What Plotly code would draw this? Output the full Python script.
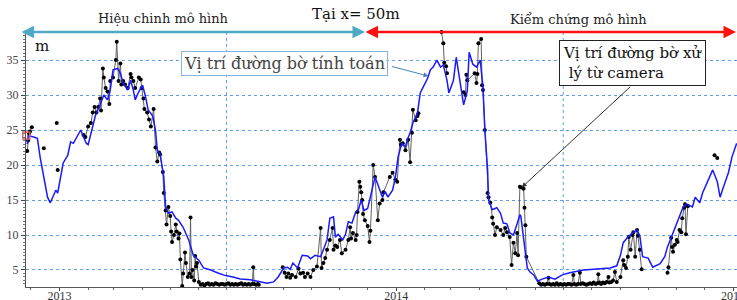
import plotly.graph_objects as go
import pandas as pd

BASE = pd.Timestamp("2013-01-01")

# Model (computed shoreline) - days since 2013-01-01, position (m)
model_day = [-35, -34, -28, -24, -21, -17, -15, -13, -10, -6, -4, -2, 1, 4, 9, 12, 15, 19, 23, 26,
             29, 31, 36, 39, 44, 48, 52, 55, 58, 63, 66, 69, 74, 77, 80, 82, 86, 90, 93, 96,
             101, 104, 106, 109, 113, 115, 118, 122, 126, 129, 134, 140, 145, 151, 156, 164, 171, 180, 188, 196,
             207, 218, 225, 232, 237, 243, 247, 250, 253, 258, 263, 269, 272, 277, 283, 286, 290, 293, 297, 299,
             302, 307, 310, 313, 317, 321, 324, 327, 330, 334, 338, 342, 345, 350, 353, 356, 361, 364, 367, 371,
             375, 377, 380, 383, 388, 391, 394, 399, 402, 405, 409, 413, 416, 420, 422, 427, 430, 432, 436, 438,
             442, 444, 448, 452, 456, 459, 461, 464, 465, 469, 474, 478, 481, 485, 488, 492, 496, 499, 500, 504,
             507, 510, 514, 518, 523, 530, 537, 545, 553, 568, 583, 597, 604, 608, 611, 616, 622, 626, 629, 632,
             638, 643, 651, 656, 659, 665, 670, 676, 680, 686, 689, 694, 697, 703, 708, 713, 716, 719, 725, 729, 734]
model_val = [23.0, 24.2, 24.0, 23.8, 21.1, 18.3, 16.4, 15.4, 14.6, 16.0, 16.4, 16.0, 18.3, 20.3, 21.4, 23.3, 23.1, 24.0, 25.0, 24.0,
             23.1, 22.9, 25.4, 27.1, 28.6, 30.0, 29.3, 30.7, 33.6, 33.8, 33.1, 31.7, 30.7, 32.1, 30.7, 29.3, 30.5, 31.4, 29.9, 27.9,
             27.0, 25.0, 22.1, 21.6, 18.3, 14.0, 13.1, 13.3, 12.4, 12.1, 11.1, 9.3, 7.1, 6.4, 5.3, 5.0, 4.6, 4.2, 4.0, 3.7,
             3.6, 3.3, 3.1, 3.3, 4.0, 5.3, 5.4, 5.1, 6.0, 5.3, 7.1, 7.0, 6.6, 7.1, 6.9, 7.9, 9.3, 12.4, 12.6, 9.7,
             10.1, 9.3, 10.1, 11.9, 11.7, 13.3, 13.6, 15.0, 13.5, 13.8, 16.0, 18.3, 17.2, 15.4, 16.2, 15.4, 16.4, 18.2, 21.2, 23.1,
             22.6, 23.6, 24.6, 26.0, 27.4, 30.3, 31.1, 32.4, 33.6, 34.0, 35.0, 34.0, 34.3, 32.1, 30.3, 32.1, 35.4, 33.6, 30.3, 28.6,
             30.6, 36.1, 34.4, 34.0, 35.0, 31.1, 25.0, 19.3, 15.0, 13.6, 13.9, 13.1, 11.7, 11.6, 10.3, 10.0, 11.6, 12.9, 12.7, 8.5,
             5.3, 4.7, 4.3, 3.4, 3.7, 4.0, 3.7, 4.3, 4.6, 5.0, 5.1, 5.3, 5.6, 7.1, 8.9, 9.7, 10.4, 10.7, 9.9, 6.9,
             6.7, 5.4, 5.9, 6.9, 8.3, 10.3, 11.9, 14.0, 14.4, 14.0, 15.4, 14.6, 16.0, 17.9, 19.3, 17.6, 15.4, 16.6, 18.9, 21.2, 23.1]

# Camera-derived shoreline (None = gap in record)
cam_day = [-35, -34, -33, -32, -30, None, -17, None, -3, None, -2, None,
           26, 28, 31, 34, 36, 38, 40, 42, 44, 45, 47, 48, 50, 52, 54, 55, 58, 61, 62, 64, 66, 67, 69, 71,
           74, 77, 78, 80, 82, 86, 88, 89, 91, 92, 95, 97, 99, 102, 104, 106, 108, 109, 112, 113, 115, 116, 118, 120,
           121, 122, 124, 126, 127, 129, 130, 131, 133, 134, 136, 137, 139, 141, 142, 143, 144, 146, 147, 148, 149, 151,
           153, 155, 157, 159, 161, 163, 165, 167, 169, 171, 173, 175, 177, 179, 181, 183, 185, 187, 189, 191, 193, 195,
           197, 199, 201, 203, 205, 207, 209, 210, 211, 213, 215, 216, None,
           242, 244, 246, 248, 250, 252, 256, 259, 261, 264, 266, 269, 272, 275, 279, 283, 284, 286, 288, 290, 293, 296,
           297, 299, 301, 304, 306, 310, 313, 315, 316, 318, 321, 322, 323, 325, 326, 327, 328, 329, 331, 334, 336, 337,
           340, 342, 345, 347, 350, 351, 358, 361, 364, 366, 369, 370, 372, 375, 378, 380, 382, 383, 386, 388, 389, None,
           414, 416, 417, 419, 420, None,
           438, 440, 441, 442, 450, 452, 453, 454, 457, 458, 459, 461, 464, 465, 467, 469, 470, 472, 474, 478, 481, 483,
           485, 488, 490, 492, 494, 496, 497, 499, 501, 503, 504, 505, 506,
           520, 522, 524, 526, 528, 530, 531, 533, 535, 537, 539, 541, 543, 545, 547, 549, 551, 553, 555, 557, 558, 560,
           562, 564, 565, 567, 569, 571, 573, 575, 577, 579, 581, 583, 584, 585, 587, 589, 591, 593, 595, 596, 598, 600,
           602, 604, 608, 611, 612, 614, 616, 617, 619, 621, 622, 624, 626, 627, 629, 631, None,
           659, 660, 663, 664, 665, 667, 669, 670, 672, 674, 675, 677, 678, 679, 681, None,
           710, 713]
cam_val = [22.0, 23.5, 24.5, 24.8, 25.4, None, 22.4, None, 26.0, None, 19.3, None,
           24.3, 24.0, 25.5, 26.0, 27.5, 28.3, 27.5, 28.3, 29.5, 27.8, 33.8, 32.5, 31.0, 30.5, 28.7, 32.0, 32.5, 35.0, 37.6, 32.0, 34.5, 31.5, 32.0, 31.5,
           31.0, 33.0, 32.5, 32.0, 31.0, 32.5, 32.2, 31.0, 29.5, 28.0, 27.5, 26.5, 25.5, 28.0, 22.5, 20.5, 21.8, 21.5, 19.0, 16.0, 13.5, 11.5, 14.0, 12.7,
           10.5, 9.0, 10.0, 11.5, 10.5, 9.5, 10.2, 6.5, 2.7, 4.5, 7.5, 6.0, 4.0, 4.5, 12.5, 4.0, 5.0, 3.5, 7.0, 5.5, 6.0, 3.3,
           2.9, 3.0, 2.8, 3.0, 3.1, 2.9, 3.0, 2.9, 3.1, 3.0, 2.9, 3.0, 3.0, 2.9, 3.0, 3.1, 2.9, 3.0, 2.9, 3.0, 2.9, 3.0,
           3.1, 2.9, 3.0, 2.9, 3.0, 2.9, 3.0, 5.4, 3.0, 2.9, 3.0, 2.9, None,
           5.4, 4.6, 4.0, 4.5, 3.9, 4.3, 4.0, 5.2, 4.5, 4.6, 4.0, 4.5, 4.0, 5.0, 5.5, 11.0, 5.3, 6.0, 6.7, 7.9, 9.3, 11.0,
           7.9, 8.5, 8.3, 9.3, 7.4, 7.9, 9.3, 11.1, 9.5, 10.3, 9.3, 10.0, 13.3, 17.6, 16.9, 16.1, 15.0, 13.0, 12.1, 11.3, 9.0, 10.6,
           20.0, 18.3, 12.1, 14.5, 15.0, 16.1, 18.3, 18.9, 17.9, 17.6, 23.6, 22.9, 23.1, 22.1, 23.6, 20.4, 24.6, 27.9, 26.4, 27.0, 27.4, None,
           39.0, 37.4, 34.6, 34.1, 33.1, None,
           30.4, 30.0, 32.9, 32.1, 33.1, 31.7, 33.0, 37.4, 38.0, 31.4, 30.7, 25.0, 16.0, 15.4, 14.6, 12.5, 11.6, 10.0, 11.1, 10.7, 10.0, 11.0,
           10.4, 9.7, 5.7, 8.9, 7.4, 10.3, 7.1, 16.9, 16.8, 16.6, 13.9, 11.4, 6.9,
           3.1, 2.9, 3.0, 2.9, 3.0, 3.9, 3.0, 2.9, 3.0, 2.9, 3.1, 2.9, 3.0, 2.9, 3.0, 2.9, 3.0, 3.0, 2.9, 4.3, 3.0, 2.9,
           3.0, 4.6, 3.0, 3.1, 3.0, 2.9, 3.0, 3.1, 3.0, 3.2, 3.0, 3.1, 4.4, 3.2, 3.0, 3.2, 3.1, 3.3, 4.0, 3.2, 3.3, 3.5,
           4.7, 3.3, 4.0, 6.4, 5.7, 5.3, 6.9, 9.7, 7.9, 10.0, 10.4, 6.9, 10.7, 9.9, 7.9, 5.1, None,
           4.6, 5.4, 9.6, 8.3, 7.6, 8.6, 9.3, 9.0, 10.7, 10.4, 12.4, 13.9, 14.4, 10.1, 14.1, None,
           21.4, 21.0]

start_day = [-36]
start_val = [24.2]

x_tick_labels = ["2013", "2014", "2015"]
x_tick_days = [0, 365, 730]


def to_dates(days):
    return [None if d is None else BASE + pd.Timedelta(days=d) for d in days]


def px(x):
    return (x - 26) / 711.0


def py(y):
    return (287 - y) / 257.0


SERIF = "Liberation Serif, Times New Roman, serif"
WSERIF = "DejaVu Serif, serif"

fig = go.Figure()

fig.add_trace(go.Scatter(
    x=to_dates(cam_day), y=cam_val, mode="lines+markers",
    line=dict(color="#606060", width=1),
    marker=dict(color="black", size=4),
    connectgaps=False, showlegend=False, hoverinfo="skip"))

fig.add_trace(go.Scatter(
    x=to_dates(model_day), y=model_val, mode="lines",
    line=dict(color="#1a1aff", width=1.5),
    showlegend=False, hoverinfo="skip"))

fig.add_trace(go.Scatter(
    x=to_dates(start_day), y=start_val, mode="markers",
    marker=dict(symbol="square-open", color="#e06060", size=7, line=dict(width=1.5)),
    showlegend=False, hoverinfo="skip", cliponaxis=False))

# vertical dotted grid lines at mid-year
for d in ["2013-07-01", "2014-07-01"]:
    fig.add_shape(type="line", xref="x", yref="paper", x0=d, x1=d, y0=0, y1=1,
                  line=dict(color="rgba(70,140,235,0.85)", width=1, dash="dot"), layer="below")


def txt(x, y, text, size, family=WSERIF, color="#222", **kw):
    d = dict(xref="paper", yref="paper", x=px(x), y=py(y), text=text, showarrow=False,
             xanchor="center", yanchor="middle", font=dict(family=family, size=size, color=color))
    d.update(kw)
    return d


annotations = []
# top double arrows
annotations.append(dict(xref="paper", yref="paper", x=px(365), y=py(32), ax=-345, ay=0,
                        text="", showarrow=True, arrowhead=2, arrowside="end+start", arrowsize=1,
                        arrowwidth=2.5, arrowcolor="#4eaac4"))
annotations.append(dict(xref="paper", yref="paper", x=px(737), y=py(32), ax=-373, ay=0,
                        text="", showarrow=True, arrowhead=2, arrowside="end+start", arrowsize=1,
                        arrowwidth=2.5, arrowcolor="#ff1010"))
annotations.append(txt(163, 19, "Hiệu chinh mô hình", 13))
annotations.append(txt(356, 14, "Tại x= 50m", 15, color="#111"))
annotations.append(txt(578, 20, "Kiểm chứng mô hình", 13))
annotations.append(txt(42, 46, "m", 15, color="#111"))
# label boxes
annotations.append(txt(284, 63.5, "Vị trí đường bờ tính toán", 16, color="#444",
                       bordercolor="#8ab4e0", borderwidth=1, borderpad=2, bgcolor="white"))
annotations.append(dict(xref="x", yref="y", x=BASE + pd.Timedelta(days=400), y=32.7,
                        ax=-38, ay=-10, text="", showarrow=True, arrowhead=2, arrowsize=1,
                        arrowwidth=1, arrowcolor="#4a80c0"))
annotations.append(txt(632, 63.5, "Vị trí đường bờ xử<br> lý từ camera", 15, color="#111", align="left",
                       bordercolor="#222", borderwidth=1, borderpad=3, bgcolor="white"))
annotations.append(dict(xref="x", yref="y", x=BASE + pd.Timedelta(days=501), y=16.8,
                        ax=110, ay=-102, text="", showarrow=True, arrowhead=2, arrowsize=1,
                        arrowwidth=1, arrowcolor="#333"))

fig.update_layout(
    width=737, height=300,
    margin=dict(l=26, r=0, t=30, b=13),
    paper_bgcolor="white", plot_bgcolor="white",
    annotations=annotations,
    xaxis=dict(type="date", range=["2012-11-25 16:00", "2015-01-05 08:00"], automargin=False,
               tickvals=to_dates(x_tick_days), ticktext=x_tick_labels, ticklabeloverflow="allow",
               ticks="outside", ticklen=3, tickcolor="#444", ticklabelstandoff=-5,
               showgrid=False, zeroline=False, showline=True, linecolor="#555", linewidth=1,
               tickfont=dict(family=SERIF, size=12, color="#333"),
               minor=dict(dtick="M1", tick0="2013-01-01", ticks="outside", ticklen=2, tickcolor="#666", showgrid=False)),
    yaxis=dict(range=[2.57, 39.29], dtick=5, tick0=0, ticks="outside", ticklen=4, tickcolor="#444",
               automargin=False,
               showgrid=True, gridcolor="rgba(70,140,235,0.85)", griddash="dot", gridwidth=1,
               zeroline=False, showline=True, linecolor="#555", linewidth=1,
               tickfont=dict(family=SERIF, size=12, color="#444"),
               minor=dict(dtick=0.5, ticks="outside", ticklen=2, tickcolor="#777", showgrid=False)),
)

fig.write_html("out.html", config={"displayModeBar": False},
               post_script="document.body.style.margin='0';")
